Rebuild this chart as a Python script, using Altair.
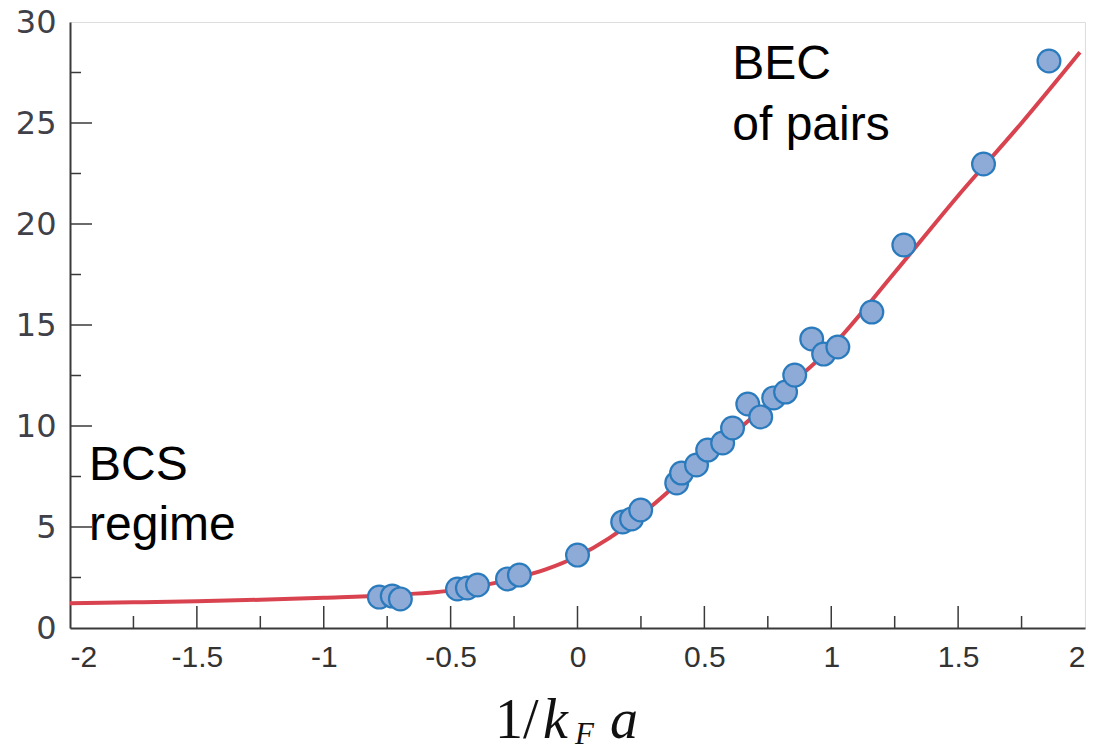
import altair as alt
import pandas as pd

# measured points
pts_x = [-0.781, -0.730, -0.698, -0.473, -0.434, -0.394, -0.276, -0.229, 0.0,
         0.178, 0.213, 0.249, 0.391, 0.41, 0.469, 0.513, 0.572, 0.611, 0.671,
         0.722, 0.773, 0.82, 0.856, 0.923, 0.970, 1.026, 1.16, 1.286, 1.60, 1.858]
pts_y = [1.53, 1.58, 1.44, 1.93, 1.98, 2.13, 2.43, 2.62, 3.61,
         5.25, 5.40, 5.84, 7.18, 7.67, 8.07, 8.81, 9.16, 9.90, 11.09,
         10.45, 11.39, 11.68, 12.52, 14.31, 13.56, 13.91, 15.64, 18.96, 22.97, 28.07]

# fitted curve
curve_x = [-2.0, -1.75, -1.5, -1.25, -1.0, -0.75, -0.5, -0.25, -0.125, 0.0, 0.125,
           0.25, 0.5, 0.75, 1.0, 1.25, 1.5, 1.75, 1.98]
curve_y = [1.22, 1.27, 1.32, 1.40, 1.50, 1.62, 1.85, 2.45, 2.9, 3.55, 4.45,
           5.6, 8.35, 11.1, 13.9, 17.6, 21.4, 25.0, 28.5]

x_major = [-1.5, -1.0, -0.5, 0.0, 0.5, 1.0, 1.5]
x_minor = [-1.75, -1.25, -0.75, -0.25, 0.25, 0.75, 1.25, 1.75]
y_major = [5, 10, 15, 20, 25]
y_minor = [2.5, 7.5, 12.5, 17.5, 22.5, 27.5]
x_ticks = [-2, -1.5, -1, -0.5, 0, 0.5, 1, 1.5, 2]
y_ticks = [0, 5, 10, 15, 20, 25, 30]

ann_text = ["BEC", "of pairs", "BCS", "regime"]
ann_x = [0.61, 0.61, -1.925, -1.925]
ann_y = [27.2, 24.15, 7.33, 4.36]

W, H = 1015, 606

pts = pd.DataFrame({"x": pts_x, "y": pts_y})
curve = pd.DataFrame({"x": curve_x, "y": curve_y})
ann = pd.DataFrame({"t": ann_text, "x": ann_x, "y": ann_y})

xs = alt.Scale(domain=[-2, 2], nice=False, zero=False)
ys = alt.Scale(domain=[0, 30], nice=False, zero=False)

base_x = alt.X("x:Q", scale=xs, axis=alt.Axis(
    values=x_ticks, title=None, ticks=False, grid=False, labelPadding=14,
    labelFontSize=30, labelFont="Liberation Sans, Arial, sans-serif",
    labelColor="#333333", domainColor="#3a3a3a", domainWidth=2,
    labelExpr="replace(format(datum.value, ''), '\u2212', '-')"))
base_y = alt.Y("y:Q", scale=ys, axis=alt.Axis(
    values=y_ticks, title=None, ticks=False, grid=False, labelPadding=14,
    labelFontSize=32, labelFont="DejaVu Sans, sans-serif",
    labelColor="#404048", domainColor="#3a3a3a", domainWidth=2))

line = alt.Chart(curve).mark_line(color="#d9434f", strokeWidth=4,
                                  interpolate="monotone").encode(x=base_x, y=base_y)

points = alt.Chart(pts).mark_point(filled=True, shape="circle", size=520,
                                   fill="#8eaad6", fillOpacity=1,
                                   stroke="#2a7bbd", strokeWidth=2.2).encode(
    x=alt.X("x:Q", scale=xs), y=alt.Y("y:Q", scale=ys))

xmaj = alt.Chart(pd.DataFrame({"x": x_major})).mark_rule(color="#3a3a3a", strokeWidth=1.5).encode(
    x=alt.X("x:Q", scale=xs), y=alt.value(H), y2=alt.value(H - 22))
xmin = alt.Chart(pd.DataFrame({"x": x_minor})).mark_rule(color="#3a3a3a", strokeWidth=1.5).encode(
    x=alt.X("x:Q", scale=xs), y=alt.value(H), y2=alt.value(H - 12))
ymaj = alt.Chart(pd.DataFrame({"y": y_major})).mark_rule(color="#3a3a3a", strokeWidth=1.5).encode(
    y=alt.Y("y:Q", scale=ys), x=alt.value(0), x2=alt.value(22))
ymin = alt.Chart(pd.DataFrame({"y": y_minor})).mark_rule(color="#3a3a3a", strokeWidth=1.5).encode(
    y=alt.Y("y:Q", scale=ys), x=alt.value(0), x2=alt.value(11))

texts = alt.Chart(ann).mark_text(align="left", baseline="alphabetic", fontSize=48,
                                 font="Liberation Sans, Arial, sans-serif", color="#000000").encode(
    x=alt.X("x:Q", scale=xs), y=alt.Y("y:Q", scale=ys), text="t:N")

t1 = alt.Chart(pd.DataFrame({"t": ["1/"]})).mark_text(
    align="left", baseline="alphabetic", fontSize=56, font="Liberation Serif, serif",
    color="#111111").encode(x=alt.value(425), y=alt.value(716), text="t:N")
t2 = alt.Chart(pd.DataFrame({"t": ["k"]})).mark_text(
    align="left", baseline="alphabetic", fontSize=56, font="Liberation Serif, serif",
    fontStyle="italic", color="#111111").encode(x=alt.value(473), y=alt.value(716), text="t:N")
t3 = alt.Chart(pd.DataFrame({"t": ["F"]})).mark_text(
    align="left", baseline="alphabetic", fontSize=31, font="Liberation Serif, serif",
    fontStyle="italic", color="#111111").encode(x=alt.value(505), y=alt.value(722), text="t:N")
t4 = alt.Chart(pd.DataFrame({"t": ["a"]})).mark_text(
    align="left", baseline="alphabetic", fontSize=56, font="Liberation Serif, serif",
    fontStyle="italic", color="#111111").encode(x=alt.value(540), y=alt.value(716), text="t:N")

chart = alt.layer(line, xmaj, xmin, ymaj, ymin, points, texts, t1, t2, t3, t4).properties(
    width=W, height=H,
    autosize=alt.AutoSizeParams(type="none"),
    padding={"left": 62, "top": 14, "right": 10, "bottom": 116},
).configure_view(stroke="#6a6a6a", strokeWidth=1.5).configure(background="white")

chart.save("out.html", embed_options={"renderer": "svg", "actions": False})
